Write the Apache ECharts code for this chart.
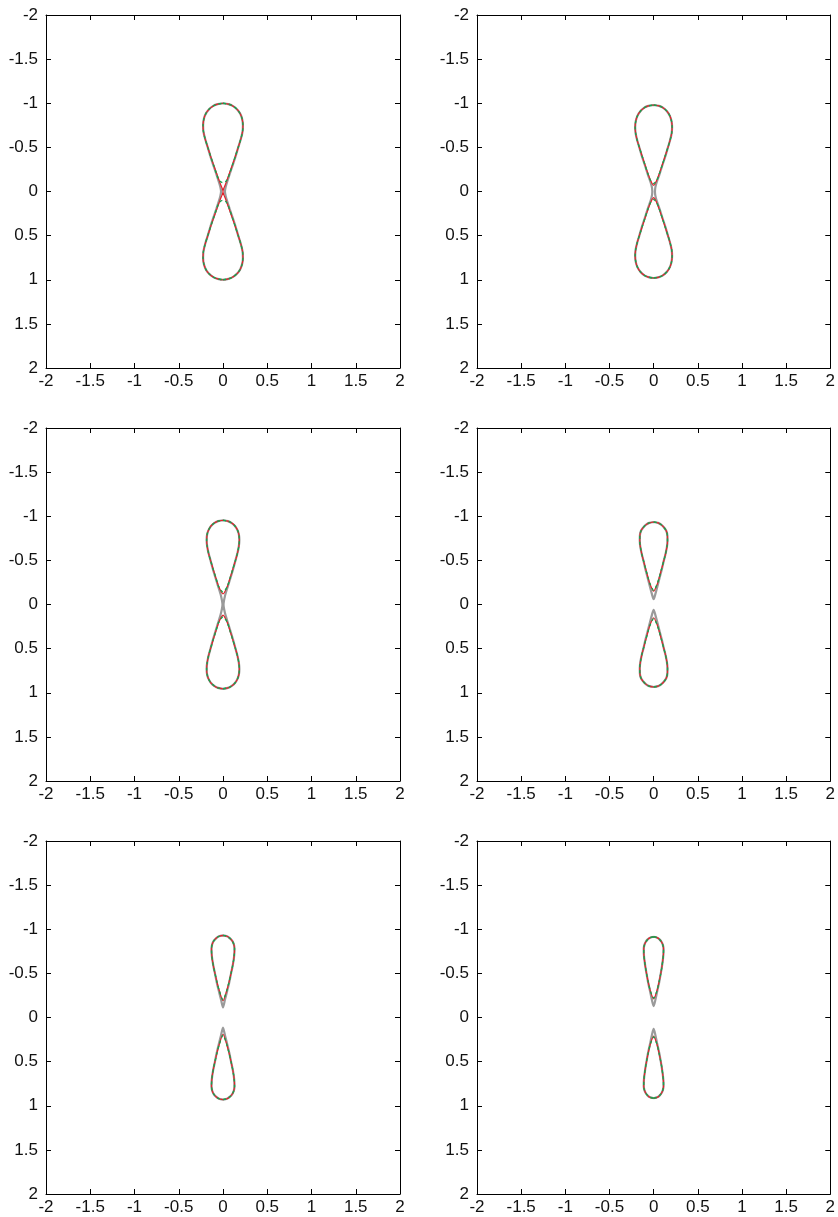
<!DOCTYPE html>
<html>
<head>
<meta charset="utf-8">
<script src="https://cdn.jsdelivr.net/npm/echarts@6/dist/echarts.min.js"></script>
<style>
  html, body { margin: 0; padding: 0; background: #fff; }
  #chart { width: 838px; height: 1217px; }
</style>
</head>
<body>
<div id="chart"></div>
<script>
// Upper-lobe profiles as [y, half-width] pairs, from the top of the lobe down.
// Each panel shares a body profile; the neck part differs per curve.
// A neck ending at y = 0 joins the two lobes; one ending with half-width 0
// above the centre closes the lobe at a tip.

const body1 = [[-1.00, 0], [-0.99, 0.06], [-0.97, 0.11], [-0.93, 0.16], [-0.88, 0.195], [-0.82, 0.217], [-0.75, 0.225], [-0.68, 0.221], [-0.60, 0.203], [-0.50, 0.172]];
const neck1Gray  = [[-0.40, 0.143], [-0.30, 0.110], [-0.20, 0.076], [-0.10, 0.044], [-0.05, 0.030], [0, 0.022]];
const neck1Red   = [[-0.40, 0.140], [-0.30, 0.106], [-0.20, 0.070], [-0.10, 0.035], [0, 0]];
const neck1Green = [[-0.40, 0.140], [-0.30, 0.107], [-0.20, 0.074], [-0.14, 0.052], [-0.11, 0.027], [-0.10, 0]];

const body2 = [[-0.98, 0], [-0.97, 0.06], [-0.95, 0.105], [-0.91, 0.15], [-0.86, 0.182], [-0.80, 0.202], [-0.73, 0.209], [-0.66, 0.204], [-0.58, 0.186], [-0.50, 0.162]];
const neck2Gray  = [[-0.40, 0.133], [-0.30, 0.100], [-0.20, 0.068], [-0.10, 0.033], [-0.05, 0.020], [0, 0.015]];
const neck2Red   = [[-0.40, 0.130], [-0.30, 0.097], [-0.20, 0.063], [-0.12, 0.032], [-0.07, 0]];
const neck2Green = [[-0.40, 0.130], [-0.30, 0.098], [-0.20, 0.065], [-0.13, 0.037], [-0.09, 0]];

const body3 = [[-0.955, 0], [-0.945, 0.055], [-0.925, 0.095], [-0.89, 0.135], [-0.84, 0.165], [-0.79, 0.18], [-0.73, 0.185], [-0.66, 0.179], [-0.58, 0.163], [-0.50, 0.141]];
const neck3Gray  = [[-0.40, 0.114], [-0.30, 0.084], [-0.20, 0.053], [-0.10, 0.023], [0, 0.006]];
const neck3Red   = [[-0.40, 0.111], [-0.30, 0.080], [-0.20, 0.047], [-0.12, 0]];
const neck3Green = [[-0.40, 0.111], [-0.30, 0.080], [-0.20, 0.048], [-0.14, 0]];

const body4 = [[-0.935, 0], [-0.925, 0.05], [-0.905, 0.085], [-0.87, 0.12], [-0.83, 0.145], [-0.78, 0.156], [-0.72, 0.157], [-0.65, 0.15], [-0.57, 0.134], [-0.50, 0.116]];
const neck4Gray  = [[-0.40, 0.093], [-0.30, 0.067], [-0.20, 0.041], [-0.12, 0.020], [-0.06, 0]];
const neck4Red   = [[-0.40, 0.089], [-0.30, 0.062], [-0.22, 0.037], [-0.15, 0]];
const neck4Green = [[-0.40, 0.089], [-0.30, 0.062], [-0.22, 0.035], [-0.16, 0]];

const body5 = [[-0.93, 0], [-0.92, 0.045], [-0.90, 0.075], [-0.87, 0.103], [-0.83, 0.122], [-0.78, 0.13], [-0.72, 0.128], [-0.65, 0.12], [-0.57, 0.106], [-0.50, 0.091]];
const neck5Gray  = [[-0.40, 0.071], [-0.30, 0.047], [-0.20, 0.022], [-0.115, 0]];
const neck5Red   = [[-0.40, 0.068], [-0.30, 0.041], [-0.19, 0]];
const neck5Green = [[-0.40, 0.068], [-0.30, 0.041], [-0.20, 0]];

const body6 = [[-0.915, 0], [-0.905, 0.04], [-0.885, 0.067], [-0.855, 0.09], [-0.82, 0.105], [-0.78, 0.112], [-0.72, 0.111], [-0.65, 0.104], [-0.57, 0.093], [-0.50, 0.081]];
const neck6Gray  = [[-0.40, 0.063], [-0.30, 0.041], [-0.20, 0.020], [-0.13, 0]];
const neck6Red   = [[-0.40, 0.061], [-0.30, 0.037], [-0.21, 0]];
const neck6Green = [[-0.40, 0.061], [-0.30, 0.037], [-0.22, 0]];

// Axis range and tick step shared by every panel
const axisMin = -2;
const axisMax = 2;
const axisStep = 0.5;

const panels = [
  { body: body1, gray: neck1Gray, red: neck1Red, green: neck1Green },
  { body: body2, gray: neck2Gray, red: neck2Red, green: neck2Green },
  { body: body3, gray: neck3Gray, red: neck3Red, green: neck3Green },
  { body: body4, gray: neck4Gray, red: neck4Red, green: neck4Green },
  { body: body5, gray: neck5Gray, red: neck5Red, green: neck5Green },
  { body: body6, gray: neck6Gray, red: neck6Red, green: neck6Green }
];

// Panel boxes in a 3 x 2 layout
const colLeft = [46, 477];
const rowTop = [15, 428, 841];
const boxW = 354;
const boxH = 353;

// Turn an upper-lobe profile into one or two closed [x, y] paths.
function outlines(profile) {
  const last = profile[profile.length - 1];
  if (last[0] === 0) {
    // lobes joined at the centre: one path round the whole figure
    const rightUpper = profile.map(([y, w]) => [w, y]);
    const rightLower = profile.slice(0, -1).reverse().map(([y, w]) => [w, -y]);
    const right = rightUpper.concat(rightLower);
    const left = right.slice().reverse().map(([x, y]) => [-x, y]);
    return [right.concat(left)];
  }
  // two separate drops
  const upper = profile.map(([y, w]) => [w, y])
    .concat(profile.slice(0, -1).reverse().map(([y, w]) => [-w, y]));
  const lower = upper.map(([x, y]) => [x, -y]);
  return [upper, lower];
}

const styles = {
  gray:  { color: '#9a9a9a', width: 2.2, type: 'solid' },
  red:   { color: '#e3222b', width: 1.2, type: 'solid' },
  green: { color: '#14a550', width: 1.4, type: [3, 3] }
};

const labelFont = {
  fontSize: 17,
  color: '#111',
  fontFamily: '"Liberation Sans", Arial, Helvetica, sans-serif'
};

const grid = [], xAxis = [], yAxis = [], series = [];

panels.forEach((p, i) => {
  const col = i % 2, row = Math.floor(i / 2);
  grid.push({
    left: colLeft[col], top: rowTop[row], width: boxW, height: boxH,
    show: false
  });
  const common = {
    type: 'value', gridIndex: i, min: axisMin, max: axisMax, interval: axisStep,
    splitLine: { show: false },
    axisLine: { show: true, onZero: false, lineStyle: { color: '#000', width: 1 } },
    axisTick: { show: true, inside: true, length: 5, lineStyle: { color: '#000', width: 1 } }
  };
  xAxis.push(Object.assign({}, common, {
    position: 'bottom',
    axisLabel: Object.assign({ margin: 5 }, labelFont)
  }));
  xAxis.push(Object.assign({}, common, {
    position: 'top',
    axisLabel: { show: false }
  }));
  yAxis.push(Object.assign({}, common, {
    position: 'left', inverse: true,
    axisLabel: Object.assign({ margin: 8 }, labelFont)
  }));
  yAxis.push(Object.assign({}, common, {
    position: 'right', inverse: true,
    axisLabel: { show: false }
  }));

  ['gray', 'red', 'green'].forEach(key => {
    const profile = p.body.concat(p[key]);
    outlines(profile).forEach(path => {
      series.push({
        type: 'line',
        xAxisIndex: 2 * i,
        yAxisIndex: 2 * i,
        data: path,
        showSymbol: false,
        smooth: 0.25,
        clip: false,
        silent: true,
        lineStyle: styles[key]
      });
    });
  });
});

const chart = echarts.init(document.getElementById('chart'), null, { renderer: 'canvas' });
chart.setOption({
  animation: false,
  backgroundColor: '#fff',
  grid: grid,
  xAxis: xAxis,
  yAxis: yAxis,
  series: series
});
</script>
</body>
</html>
